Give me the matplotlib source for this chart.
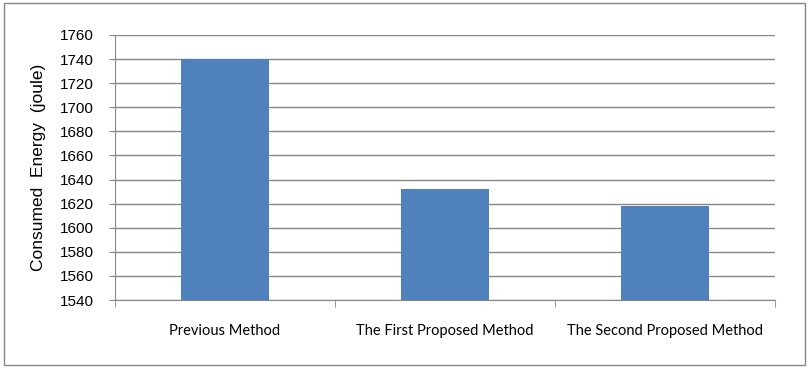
import matplotlib.pyplot as plt
from matplotlib.patches import Rectangle
import numpy as np

# data
methods = ['Previous Method', 'The First Proposed Method', 'The Second Proposed Method']
energy = [1740, 1632, 1618]
y_ticks = list(range(1540, 1761, 20))

fig = plt.figure(figsize=(8.11, 3.7), dpi=100)
ax = fig.add_axes([115/811, 1-300/370, 660/811, 265/370])

x = np.arange(len(methods))
ax.bar(x, [e - 1540 for e in energy], bottom=1540, width=0.4, color='#4f81bd', zorder=3)

ax.set_xlim(-0.5, 2.5)
ax.set_ylim(1540, 1760)
ax.set_yticks(y_ticks)
ax.set_yticklabels([str(t) for t in y_ticks], fontsize=11, family='Liberation Sans')
ax.set_xticks(x)
ax.set_xticklabels(methods, fontsize=10.5, family='Lato')
ax.set_xticks([-0.5, 0.5, 1.5, 2.5], minor=True)
ax.tick_params(axis='x', which='major', length=0, pad=17)
ax.tick_params(axis='x', which='minor', length=5, color='#868686')
ax.tick_params(axis='y', length=4, color='#868686', pad=11)

ax.grid(axis='y', color='#868686', linewidth=1, zorder=0)
for s in ['top', 'right']:
    ax.spines[s].set_visible(False)
for s in ['left', 'bottom']:
    ax.spines[s].set_color('#868686')
ax.set_ylabel('Consumed  Energy  (joule)', fontsize=12.5, family='Liberation Sans', labelpad=10)

fig.patches.append(Rectangle((4/811, 1-365/370), 801/811, 362/370, transform=fig.transFigure,
                             fill=False, edgecolor='#868686', linewidth=1))

fig.savefig('out.png', dpi=100)
